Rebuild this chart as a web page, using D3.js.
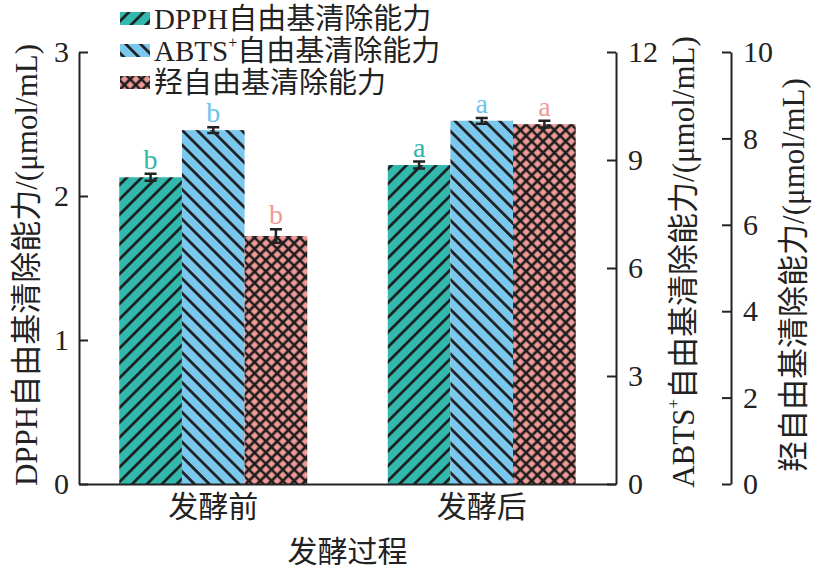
<!DOCTYPE html>
<html>
<head>
<meta charset="utf-8">
<script src="https://cdn.jsdelivr.net/npm/d3@7"></script>
<style>
  body { margin: 0; background: #fff; }
  text { font-family: "Liberation Serif", "Times New Roman", "Noto Sans CJK SC", serif; fill: #222; }
</style>
</head>
<body>
<div id="holder"></div>
<script>
const w = 822;
const h = 570;

// DATA
const categories = ["发酵前", "发酵后"];
const dpph = [2.13, 2.215];
const dpphErr = [0.024, 0.024];
const abts = [9.83, 10.09];
const abtsErr = [0.08, 0.08];
const hydroxyl = [5.74, 8.33];
const hydroxylErr = [0.155, 0.08];
const dpphLetters = ["b", "a"];
const abtsLetters = ["b", "a"];
const hydroxylLetters = ["b", "a"];
const dpphTicks = [0, 1, 2, 3];
const abtsTicks = [0, 3, 6, 9, 12];
const hydroxylTicks = [0, 2, 4, 6, 8, 10];

const plotLeft = 79, plotRight = 616, thirdAxis = 731;
const plotTop = 52, plotBottom = 484;

// CREATE SVG
const svg = d3.select("#holder")
    .append("svg")
    .attr("width", w)
    .attr("height", h)

const defs = svg.append("defs");

// hatch patterns
function hatch(id, color, size, angle, cross) {
    const p = defs.append("pattern")
        .attr("id", id)
        .attr("patternUnits", "userSpaceOnUse")
        .attr("width", size)
        .attr("height", size)
        .attr("patternTransform", "rotate(" + angle + ")");
    p.append("rect").attr("width", size).attr("height", size).attr("fill", color);
    p.append("line")
        .attr("x1", size / 2).attr("x2", size / 2)
        .attr("y1", 0).attr("y2", size)
        .attr("stroke", "#1c1c1c").attr("stroke-width", 2.7);
    if (cross) {
        p.append("line")
            .attr("y1", size / 2).attr("y2", size / 2)
            .attr("x1", 0).attr("x2", size)
            .attr("stroke", "#1c1c1c").attr("stroke-width", 2.5);
    }
}
hatch("p-dpph", "#33b8ad", 10.5, 45, false);
hatch("p-abts", "#7bc8ef", 10.5, -45, false);
hatch("p-oh", "#f29b99", 8, 45, true);

// SCALES
const x = d3.scaleBand().domain(categories).range([plotLeft, plotRight]).paddingInner(0.3).paddingOuter(0.15);
const xs = d3.scaleBand().domain([0, 1, 2]).range([0, x.bandwidth()]);
const yDpph = d3.scaleLinear().domain([0, 3]).range([plotBottom, plotTop]);
const yAbts = d3.scaleLinear().domain([0, 12]).range([plotBottom, plotTop]);
const yOh = d3.scaleLinear().domain([0, 10]).range([plotBottom, plotTop]);

const series = [
    { values: dpph, err: dpphErr, letters: dpphLetters, y: yDpph, fill: "url(#p-dpph)", color: "#33b5aa" },
    { values: abts, err: abtsErr, letters: abtsLetters, y: yAbts, fill: "url(#p-abts)", color: "#6cc3ec" },
    { values: hydroxyl, err: hydroxylErr, letters: hydroxylLetters, y: yOh, fill: "url(#p-oh)", color: "#f09a98" }
];

// BARS
series.forEach(function (s, i) {
    const g = svg.append("g");
    categories.forEach(function (c, j) {
        const bx = x(c) + xs(i);
        const cx = bx + xs.bandwidth() / 2;
        g.append("rect")
            .attr("x", bx)
            .attr("y", s.y(s.values[j]))
            .attr("width", xs.bandwidth())
            .attr("height", plotBottom - s.y(s.values[j]))
            .attr("fill", s.fill);
        const yt = s.y(s.values[j] + s.err[j]);
        const yb = s.y(s.values[j] - s.err[j]);
        g.append("path")
            .attr("d", "M" + cx + "," + yt + "V" + yb + "M" + (cx - 6) + "," + yt + "H" + (cx + 6) + "M" + (cx - 6) + "," + yb + "H" + (cx + 6))
            .attr("stroke", "#222")
            .attr("stroke-width", 2.5)
            .attr("fill", "none");
        g.append("text")
            .attr("x", cx)
            .attr("y", yt - 5)
            .attr("text-anchor", "middle")
            .style("font-size", "28px")
            .style("fill", s.color)
            .text(s.letters[j]);
    });
});

// AXES
function styleAxis(g) {
    g.selectAll("path, line").attr("stroke", "#222").attr("stroke-width", 2);
    g.selectAll("text").style("font-size", "30px").attr("fill", "#222")
        .style("font-family", "'Liberation Serif', 'Noto Sans CJK SC', serif");
}

svg.append("g")
    .attr("transform", "translate(0," + plotBottom + ")")
    .call(d3.axisBottom(x).tickSize(0).tickSizeOuter(0).tickPadding(12))
    .call(styleAxis);

svg.append("g")
    .attr("transform", "translate(" + plotLeft + ",0)")
    .call(d3.axisLeft(yDpph).tickValues(dpphTicks).tickFormat(d3.format("d")).tickSize(-9).tickSizeOuter(0).tickPadding(10))
    .call(styleAxis);

svg.append("g")
    .attr("transform", "translate(" + plotRight + ",0)")
    .call(d3.axisRight(yAbts).tickValues(abtsTicks).tickFormat(d3.format("d")).tickSize(-9).tickSizeOuter(0).tickPadding(12))
    .call(styleAxis);

svg.append("g")
    .attr("transform", "translate(" + thirdAxis + ",0)")
    .call(d3.axisRight(yOh).tickValues(hydroxylTicks).tickFormat(d3.format("d")).tickSize(-9).tickSizeOuter(0).tickPadding(12))
    .call(styleAxis);

// AXIS TITLES
function yTitle(cx, cy, size, parts) {
    const t = svg.append("text")
        .attr("transform", "translate(" + cx + "," + cy + ") rotate(-90)")
        .attr("text-anchor", "middle")
        .attr("dominant-baseline", "central")
        .style("font-size", size + "px");
    parts.forEach(function (p) {
        const ts = t.append("tspan").text(p.t);
        if (p.sup) ts.attr("baseline-shift", "super").style("font-size", "17px");
    });
}
yTitle(26, 265, 31, [{ t: "DPPH自由基清除能力/(μmol/mL)" }]);
yTitle(683, 262, 31, [{ t: "ABTS" }, { t: "+", sup: true }, { t: "自由基清除能力/(μmol/mL)" }]);
yTitle(793, 275, 31, [{ t: "羟自由基清除能力/(μmol/mL)" }]);

svg.append("text")
    .attr("x", (plotLeft + plotRight) / 2)
    .attr("y", 562)
    .attr("text-anchor", "middle")
    .style("font-size", "30px")
    .text("发酵过程");

// LEGEND
const legendItems = [
    { parts: [{ t: "DPPH自由基清除能力" }], fill: "url(#p-dpph)" },
    { parts: [{ t: "ABTS" }, { t: "+", sup: true }, { t: "自由基清除能力" }], fill: "url(#p-abts)" },
    { parts: [{ t: "羟自由基清除能力" }], fill: "url(#p-oh)" }
];
const legend = svg.append("g");
legendItems.forEach(function (d, i) {
    const yy = 19 + i * 32;
    legend.append("rect")
        .attr("x", 120).attr("y", yy - 7)
        .attr("width", 30).attr("height", 13)
        .attr("fill", d.fill);
    const t = legend.append("text")
        .attr("x", 154).attr("y", yy)
        .attr("dominant-baseline", "central")
        .style("font-size", "29px");
    d.parts.forEach(function (p) {
        const ts = t.append("tspan").text(p.t);
        if (p.sup) ts.attr("baseline-shift", "super").style("font-size", "16px");
    });
});
</script>
</body>
</html>
